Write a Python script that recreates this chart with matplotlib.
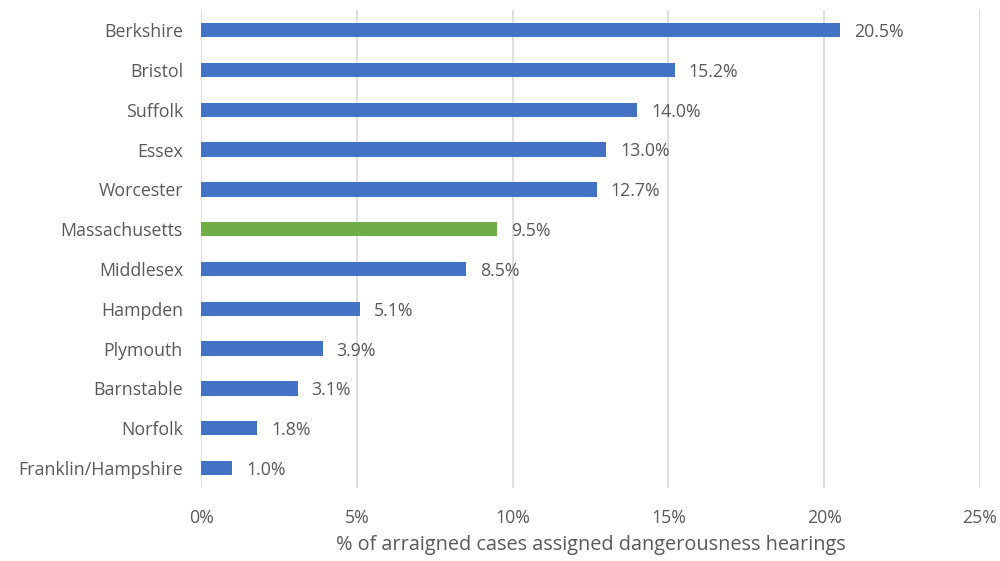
import matplotlib
matplotlib.use("Agg")
import matplotlib.pyplot as plt
from matplotlib.ticker import MultipleLocator, FuncFormatter

counties = ["Berkshire", "Bristol", "Suffolk", "Essex", "Worcester", "Massachusetts",
            "Middlesex", "Hampden", "Plymouth", "Barnstable", "Norfolk", "Franklin/Hampshire"]
rates = [20.5, 15.2, 14.0, 13.0, 12.7, 9.5, 8.5, 5.1, 3.9, 3.1, 1.8, 1.0]
state_name = "Massachusetts"

blue = "#4472C4"
green = "#70AD47"
grey_text = "#595959"

plt.rcParams["font.family"] = ["Open Sans", "DejaVu Sans"]

fig = plt.figure(figsize=(10, 5.61), dpi=100)
ax = fig.add_axes([0.201, 0.130, 0.779, 0.852])

ypos = list(range(len(counties)))
colors = [green if c == state_name else blue for c in counties]
ax.barh(ypos, rates, height=0.36, color=colors, zorder=3)

for y, r in zip(ypos, rates):
    ax.text(r + 0.45, y + 0.05, f"{r:.1f}%", va="center", ha="left",
            fontsize=12.8, color=grey_text)

ax.set_xlim(0, 25)
ax.set_ylim(len(counties) - 0.5, -0.5)
ax.set_yticks(ypos)
ax.set_yticklabels(counties)
ax.xaxis.set_major_locator(MultipleLocator(5))
ax.xaxis.set_major_formatter(FuncFormatter(lambda v, p: f"{v:.0f}%"))

ax.grid(axis="x", color="#D9D9D9", linewidth=1.2, zorder=0)
for s in ax.spines.values():
    s.set_visible(False)
ax.tick_params(axis="both", length=0, labelsize=12.8, colors=grey_text)
ax.tick_params(axis="y", pad=13)
ax.tick_params(axis="x", pad=15)

ax.set_xlabel("% of arraigned cases assigned dangerousness hearings",
              fontsize=14.3, color=grey_text, labelpad=6)

fig.savefig("out.png", dpi=100)
